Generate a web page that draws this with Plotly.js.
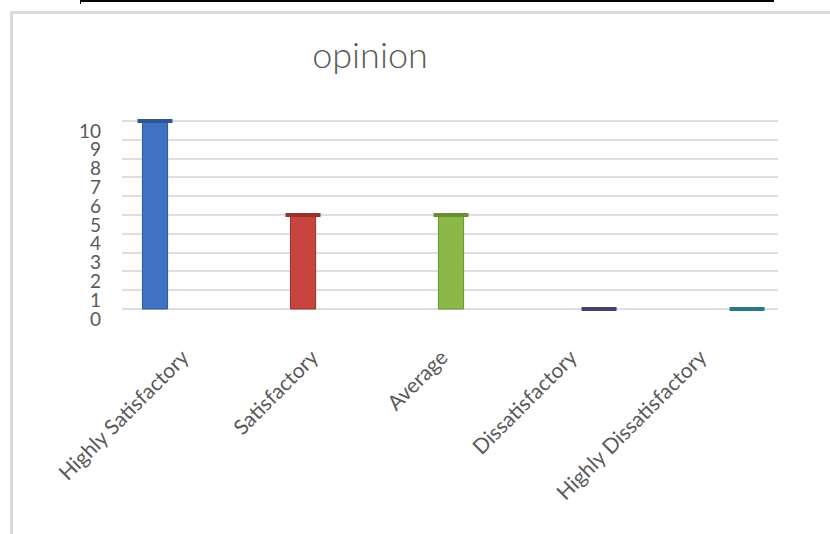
<!DOCTYPE html>
<html>
<head>
<meta charset="utf-8">
<script src="https://cdn.plot.ly/plotly-3.0.1.min.js"></script>
<style>
  html, body { margin: 0; padding: 0; background: #fff; }
  #wrap { position: relative; width: 830px; height: 534px; overflow: hidden; }
  #chart { position: absolute; left: 0; top: 0; width: 830px; height: 534px; }
  #frame { position: absolute; left: 10px; top: 11px; width: 840px; height: 560px;
           border-left: 3px solid #dadada; border-top: 3px solid #dadada; pointer-events: none; }
  #topline { position: absolute; left: 80px; top: 0; width: 694px; height: 2px; background: #000; }
  #toptick { position: absolute; left: 80px; top: 0; width: 1px; height: 4px; background: #000; }
</style>
</head>
<body>
<div id="wrap">
  <div id="frame"></div>
  <div id="topline"></div>
  <div id="toptick"></div>
  <div id="chart"></div>
</div>
<script>
const categories = ["Highly Satisfactory", "Satisfactory", "Average", "Dissatisfactory", "Highly Dissatisfactory"];
const values = [10, 5, 5, 0, 0];
const barColors = ["#3f72c2", "#c8443f", "#8cb848", "#5f5a92", "#3aa3a8"];
const edgeColors = ["#2e5596", "#9a302c", "#6b8f33", "#45406e", "#2a7a7e"];
const yTicks = [0, 1, 2, 3, 4, 5, 6, 7, 8, 9, 10];
const chartTitle = "opinion";

const bars = {
  type: "bar",
  x: categories,
  y: values,
  width: 0.17,
  marker: { color: barColors, line: { color: edgeColors, width: 1 } },
  hoverinfo: "skip",
  xaxis: "x",
  yaxis: "y"
};
const caps = {
  type: "scatter",
  mode: "markers",
  x: categories,
  y: values,
  marker: { symbol: "line-ew", size: 25, line: { color: edgeColors, width: 4 } },
  hoverinfo: "skip",
  xaxis: "x",
  yaxis: "y"
};
const labelsTrace = {
  type: "scatter",
  mode: "markers",
  x: categories,
  y: values,
  marker: { opacity: 0 },
  hoverinfo: "skip",
  xaxis: "x2",
  yaxis: "y"
};

const layout = {
  width: 830,
  height: 534,
  margin: { l: 122, r: 52, t: 110, b: 214 },
  paper_bgcolor: "rgba(0,0,0,0)",
  plot_bgcolor: "rgba(0,0,0,0)",
  showlegend: false,
  title: {
    text: chartTitle,
    x: 370 / 830, xanchor: "center",
    y: 1 - 55 / 534, yanchor: "middle",
    font: { family: "Lato", size: 36, color: "#595959", weight: 300 }
  },
  xaxis: {
    type: "category",
    range: [-0.223, 4.209],
    showticklabels: false,
    showgrid: false,
    zeroline: false,
    showline: false,
    ticks: ""
  },
  xaxis2: {
    type: "category",
    overlaying: "x",
    anchor: "y",
    side: "bottom",
    range: [-0.47, 4.6],
    showgrid: false,
    zeroline: false,
    showline: false,
    ticks: "",
    tickangle: -45,
    ticklabelstandoff: 20,
    tickfont: { family: "Lato", size: 21, color: "#595959" }
  },
  yaxis: {
    range: [-0.585, 10.585],
    tickvals: yTicks,
    ticktext: yTicks.map(String),
    showgrid: true,
    gridcolor: "#dedede",
    gridwidth: 2,
    zeroline: false,
    showline: false,
    ticks: "",
    ticklabelshift: 10,
    ticklabelstandoff: 20,
    tickfont: { family: "Lato", size: 19, color: "#595959" }
  }
};

Plotly.newPlot("chart", [bars, caps, labelsTrace], layout, { staticPlot: true, displayModeBar: false });
</script>
</body>
</html>
